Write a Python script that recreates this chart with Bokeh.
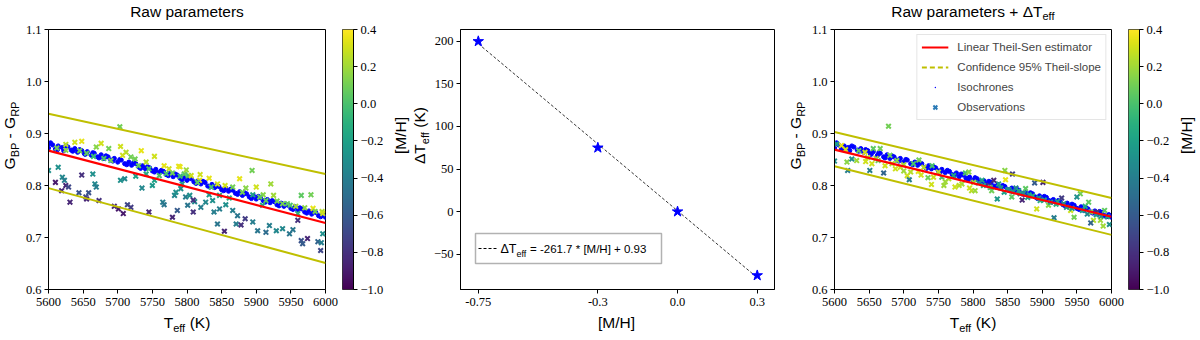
import numpy as np
from bokeh.plotting import figure
from bokeh.layouts import row, column
from bokeh.models import (ColumnDataSource, LinearColorMapper, FixedTicker, Label,
                          Legend, LegendItem, BoxAnnotation, Arrow, CustomJSTickFormatter)
from bokeh.palettes import Viridis256
from bokeh.embed import file_html
from bokeh.resources import INLINE

# ---------------- data ----------------
x_ticks = [5600, 5650, 5700, 5750, 5800, 5850, 5900, 5950, 6000]
y_ticks = [0.6, 0.7, 0.8, 0.9, 1.0, 1.1]
cb_ticks = [-1.0, -0.8, -0.6, -0.4, -0.2, 0.0, 0.2, 0.4]
mh_low, mh_high = -1.0, 0.4
mh_ticks = [-0.75, -0.3, 0.0, 0.3]
dt_ticks = [-50, 0, 50, 100, 150, 200]

# isochrones (same in both panels)
iso_teff = [5600, 5600, 5606, 5610, 5614, 5620, 5622, 5628, 5633, 5638,
            5642, 5648, 5652, 5656, 5662, 5666, 5671, 5676, 5680, 5686,
            5690, 5695, 5700, 5705, 5710, 5716, 5720, 5726, 5731, 5736,
            5740, 5746, 5750, 5755, 5760, 5766, 5770, 5776, 5780, 5786,
            5790, 5795, 5800, 5806, 5810, 5816, 5820, 5826, 5830, 5836,
            5840, 5846, 5850, 5856, 5860, 5866, 5870, 5876, 5880, 5886,
            5890, 5896, 5900, 5906, 5910, 5916, 5920, 5926, 5930, 5936,
            5940, 5946, 5950, 5956, 5960, 5966, 5970, 5976, 5980, 5986,
            5990, 5996, 6000,
            5603, 5613, 5625, 5635, 5645, 5653, 5664, 5673, 5683, 5693,
            5703, 5713, 5723, 5733, 5743, 5753, 5763, 5773, 5783, 5793,
            5803, 5813, 5823, 5833, 5843, 5853, 5863, 5873, 5883, 5893,
            5903, 5913, 5923, 5933, 5943, 5953, 5963, 5973, 5983, 5993]
iso_color = [0.880, 0.872, 0.878, 0.870, 0.876, 0.873, 0.867, 0.874, 0.868, 0.871,
             0.864, 0.867, 0.861, 0.865, 0.858, 0.862, 0.855, 0.859, 0.852, 0.855,
             0.849, 0.852, 0.845, 0.849, 0.842, 0.845, 0.839, 0.842, 0.835, 0.838,
             0.832, 0.834, 0.828, 0.831, 0.825, 0.827, 0.821, 0.824, 0.817, 0.820,
             0.814, 0.816, 0.810, 0.813, 0.807, 0.809, 0.803, 0.806, 0.799, 0.802,
             0.796, 0.798, 0.792, 0.795, 0.789, 0.791, 0.785, 0.788, 0.781, 0.784,
             0.778, 0.780, 0.774, 0.777, 0.771, 0.773, 0.767, 0.769, 0.763, 0.766,
             0.760, 0.762, 0.756, 0.759, 0.752, 0.755, 0.749, 0.751, 0.745, 0.748,
             0.742, 0.744, 0.739,
             0.882, 0.869, 0.876, 0.866, 0.869, 0.860, 0.863, 0.853, 0.857, 0.847,
             0.850, 0.840, 0.844, 0.833, 0.836, 0.826, 0.829, 0.819, 0.822, 0.811,
             0.815, 0.804, 0.808, 0.797, 0.800, 0.790, 0.793, 0.783, 0.786, 0.775,
             0.779, 0.768, 0.771, 0.761, 0.764, 0.754, 0.757, 0.747, 0.750, 0.740]

# observations, raw parameters
raw_teff = [5703, 5638, 5648, 5625, 5676, 5687, 5669, 5704, 5712, 5734,
            5719, 5707, 5725, 5753, 5741, 5767, 5774, 5788, 5779, 5796,
            5760, 5741, 5726, 5802, 5799, 5790, 5894, 5921, 5965, 5979,
            5876, 5855, 5832, 5819, 5806, 5818, 5844, 5866, 5885, 5900,
            5910, 5925, 5914, 5938, 5949, 5957, 5982, 5995, 5996, 5960,
            5909, 5895, 5861, 5847, 5832, 5655, 5665, 5680, 5690, 5730,
            5745, 5770, 5790, 5815, 5835, 5880, 5905, 5930, 5945, 5970,
            5985, 5645, 5625, 5612, 5614, 5600, 5620, 5623, 5625, 5610,
            5619, 5629, 5631, 5644, 5648, 5654, 5658, 5664, 5667, 5669,
            5673, 5655, 5695, 5701, 5708, 5714, 5719, 5710, 5704, 5735,
            5745, 5753, 5765, 5767, 5750, 5779, 5786, 5782, 5784, 5791,
            5798, 5801, 5793, 5804, 5811, 5809, 5809, 5820, 5827, 5837,
            5839, 5844, 5847, 5854, 5856, 5866, 5873, 5871, 5878, 5884,
            5895, 5902, 5914, 5919, 5929, 5938, 5948, 5953, 5960, 5965,
            5967, 5974, 5989, 5993, 5996, 5994]
raw_color = [0.913, 0.883, 0.885, 0.879, 0.881, 0.871, 0.874, 0.875, 0.864, 0.867,
             0.855, 0.858, 0.851, 0.856, 0.845, 0.838, 0.832, 0.837, 0.824, 0.822,
             0.819, 0.822, 0.818, 0.819, 0.830, 0.836, 0.829, 0.803, 0.781, 0.782,
             0.813, 0.800, 0.814, 0.821, 0.819, 0.810, 0.803, 0.797, 0.795, 0.797,
             0.782, 0.781, 0.771, 0.765, 0.762, 0.760, 0.756, 0.750, 0.746, 0.746,
             0.762, 0.782, 0.776, 0.781, 0.782, 0.862, 0.856, 0.852, 0.848, 0.838,
             0.832, 0.823, 0.818, 0.806, 0.797, 0.787, 0.778, 0.770, 0.765, 0.757,
             0.750, 0.867, 0.868, 0.872, 0.835, 0.829, 0.816, 0.810, 0.800, 0.806,
             0.790, 0.797, 0.768, 0.786, 0.820, 0.778, 0.786, 0.822, 0.803, 0.797,
             0.771, 0.774, 0.760, 0.755, 0.746, 0.763, 0.758, 0.813, 0.810, 0.795,
             0.749, 0.810, 0.768, 0.763, 0.800, 0.739, 0.752, 0.781, 0.787, 0.794,
             0.778, 0.762, 0.803, 0.781, 0.769, 0.749, 0.772, 0.758, 0.768, 0.771,
             0.749, 0.726, 0.755, 0.712, 0.763, 0.752, 0.742, 0.726, 0.724, 0.736,
             0.730, 0.713, 0.710, 0.723, 0.713, 0.717, 0.707, 0.715, 0.733, 0.694,
             0.688, 0.698, 0.692, 0.675, 0.707, 0.690]
raw_mh = [0.10, 0.30, 0.35, 0.25, 0.30, 0.10, 0.15, 0.30, 0.25, 0.35,
          0.10, 0.30, 0.10, 0.30, 0.25, 0.35, 0.30, 0.35, 0.10, 0.05,
          0.00, -0.15, -0.20, 0.00, 0.20, 0.35, 0.10, 0.20, 0.05, 0.10,
          0.35, 0.30, 0.35, 0.30, 0.30, 0.35, 0.30, 0.10, 0.15, 0.30,
          0.15, 0.20, 0.05, 0.10, 0.00, 0.20, 0.35, 0.25, 0.30, -0.10,
          -0.15, -0.20, -0.10, -0.15, -0.25, 0.05, -0.05, 0.00, 0.10, 0.05,
          0.00, 0.00, -0.05, 0.05, 0.00, 0.10, 0.05, 0.10, 0.05, 0.15,
          0.10, 0.10, 0.15, 0.10, -0.30, -0.30, -0.35, -0.40, -0.85, -0.90,
          -0.85, -0.70, -0.85, -0.65, -0.80, -0.70, -0.65, -0.30, -0.35, -0.40,
          -0.80, -0.85, -0.85, -0.90, -0.90, -0.70, -0.75, -0.35, -0.30, -0.35,
          -0.85, -0.20, -0.40, -0.45, -0.25, -0.85, -0.60, -0.35, -0.30, -0.30,
          -0.40, -0.45, -0.25, -0.30, -0.35, -0.80, -0.80, -0.40, -0.35, -0.30,
          -0.40, -0.45, -0.40, -0.85, -0.30, -0.40, -0.45, -0.40, -0.80, -0.75,
          -0.40, -0.45, -0.50, -0.40, -0.35, -0.35, -0.45, -0.45, -0.80, -0.65,
          -0.60, -0.85, -0.55, -0.70, -0.30, -0.40]

# observations, raw parameters + delta Teff
cor_teff = [5678, 5600, 5603, 5610, 5616, 5618, 5619, 5625, 5632, 5635,
            5644, 5648, 5651, 5656, 5666, 5654, 5663, 5671, 5673, 5680,
            5683, 5690, 5695, 5700, 5705, 5708, 5714, 5722, 5721, 5729,
            5741, 5740, 5743, 5750, 5755, 5758, 5765, 5772, 5774, 5784,
            5789, 5794, 5798, 5801, 5846, 5857, 5847, 5837, 5813, 5823,
            5830, 5803, 5827, 5835, 5889, 5901, 5876, 5868, 5871, 5879,
            5897, 5856, 5852, 5892, 5909, 5917, 5928, 5922, 5931, 5941,
            5946, 5955, 5950, 5962, 5967, 5970, 5974, 5979, 5984, 5990,
            5994, 5997, 5988, 5970, 5840, 5845, 5850, 5858, 5862, 5866,
            5873, 5881, 5886, 5895, 5903, 5912, 5920, 5935, 5943, 5958,
            5965, 5978, 5985, 5815, 5808, 5825, 5700, 5710, 5725, 5735,
            5760, 5780, 5795, 5645, 5660, 5688]
cor_color = [0.914, 0.847, 0.880, 0.877, 0.869, 0.845, 0.829, 0.851, 0.848, 0.867,
             0.864, 0.854, 0.829, 0.871, 0.871, 0.842, 0.848, 0.824, 0.838, 0.858,
             0.842, 0.848, 0.835, 0.840, 0.819, 0.811, 0.842, 0.849, 0.827, 0.835,
             0.838, 0.802, 0.816, 0.826, 0.816, 0.800, 0.813, 0.819, 0.797, 0.803,
             0.824, 0.826, 0.790, 0.806, 0.829, 0.822, 0.811, 0.803, 0.810, 0.800,
             0.810, 0.790, 0.790, 0.774, 0.805, 0.806, 0.794, 0.784, 0.772, 0.777,
             0.771, 0.778, 0.792, 0.755, 0.762, 0.738, 0.776, 0.769, 0.765, 0.752,
             0.739, 0.784, 0.778, 0.760, 0.768, 0.749, 0.733, 0.749, 0.733, 0.752,
             0.740, 0.725, 0.722, 0.728, 0.795, 0.787, 0.792, 0.788, 0.795, 0.790,
             0.785, 0.782, 0.780, 0.776, 0.772, 0.768, 0.764, 0.758, 0.756, 0.752,
             0.745, 0.744, 0.741, 0.800, 0.805, 0.796, 0.828, 0.826, 0.820, 0.815,
             0.807, 0.800, 0.795, 0.846, 0.852, 0.832]
cor_mh = [0.10, -0.30, -0.20, 0.35, 0.30, 0.15, -0.40, -0.30, 0.20, 0.05,
          0.30, 0.25, -0.40, 0.05, 0.10, 0.30, 0.10, -0.55, 0.30, 0.10,
          0.25, 0.15, 0.30, 0.20, 0.30, -0.40, 0.00, 0.10, 0.35, 0.25,
          0.00, 0.30, 0.30, 0.25, 0.00, 0.20, 0.25, -0.20, 0.30, 0.20,
          0.00, 0.15, 0.25, 0.20, 0.15, -0.75, 0.35, -0.20, -0.20, -0.80,
          -0.85, 0.20, 0.10, -0.25, -0.60, -0.85, 0.05, -0.30, -0.85, -0.20,
          -0.10, 0.05, -0.30, 0.30, 0.15, -0.40, -0.75, -0.25, -0.30, 0.30,
          0.10, 0.10, -0.30, -0.15, 0.05, 0.15, 0.25, -0.80, 0.20, 0.05,
          -0.20, -0.30, 0.20, -0.55, -0.25, -0.20, -0.30, -0.25, -0.35, -0.20,
          -0.30, -0.25, -0.10, -0.30, -0.20, -0.25, -0.10, -0.30, -0.25, -0.20,
          -0.35, -0.25, -0.30, -0.15, -0.30, 0.00, 0.20, 0.25, 0.30, 0.10,
          0.20, 0.25, 0.30, 0.30, 0.20, 0.30]

# Theil-Sen fits (end points)
fit_teff = [5600, 6000]
raw_fit = [0.867, 0.728]
raw_upper = [0.938, 0.822]
raw_lower = [0.795, 0.651]
cor_fit = [0.869, 0.740]
cor_upper = [0.903, 0.776]
cor_lower = [0.837, 0.705]

# delta Teff vs metallicity
mh_points = [-0.75, -0.3, 0.0, 0.3]
dteff_points = [200, 75, 0, -75]
fit_slope = -261.7
fit_intercept = 0.93

NAN = [float("nan")]

# ---------------- styling helpers ----------------
SANS = "Liberation Sans"
SERIF = "Liberation Serif"
MAIN = 15.5
SUB = 11
SUB_DY = 3.5
BASE_FIX = 0.33   # em correction so that labels sit on the intended baseline
W = {' ': 0.278, '(': 0.333, ')': 0.333, '[': 0.278, ']': 0.278, '/': 0.278, '-': 0.333,
     '+': 0.584, '=': 0.584, '*': 0.389, '.': 0.278, 'R': 0.722, 'a': 0.556, 'w': 0.722,
     'p': 0.556, 'r': 0.333, 'm': 0.833, 'e': 0.556, 't': 0.278, 's': 0.5, 'T': 0.611,
     'f': 0.278, 'K': 0.667, 'M': 0.833, 'H': 0.722, 'G': 0.778, 'B': 0.667, 'P': 0.667,
     'Δ': 0.668}
for d in "0123456789":
    W[d] = 0.556


def tw(s, size):
    return sum(W.get(c, 0.55) for c in s) * size


def put(p, text, x, y, size, angle=0.0):
    if angle == 0.0:
        y = y + BASE_FIX * size
    else:
        x = x - BASE_FIX * size
    p.add_layout(Label(x=x, y=y, x_units="screen", y_units="screen", text=text,
                       angle=angle, text_align="left", text_baseline="alphabetic",
                       text_font=SANS, text_font_size=f"{size}px", text_color="black"))


def hlabel(p, parts, cx, y, sub_dy=SUB_DY):
    sizes = [SUB if sub else MAIN for _, sub in parts]
    total = sum(tw(t, s) for (t, _), s in zip(parts, sizes))
    x = cx - total / 2
    for (t, sub), s in zip(parts, sizes):
        lead = len(t) - len(t.lstrip())
        x += lead * W[' '] * s
        core = t.strip()
        put(p, core, x, y - (sub_dy if sub else 0), s)
        x += tw(core, s) + (len(t) - lead - len(core)) * W[' '] * s


def vlabel(p, parts, x, cy, sub_dy=SUB_DY):
    sizes = [SUB if sub else MAIN for _, sub in parts]
    total = sum(tw(t, s) for (t, _), s in zip(parts, sizes))
    y = cy - total / 2
    for (t, sub), s in zip(parts, sizes):
        lead = len(t) - len(t.lstrip())
        y += lead * W[' '] * s
        core = t.strip()
        put(p, core, x + (sub_dy if sub else 0), y, s, angle=np.pi / 2)
        y += tw(core, s) + (len(t) - lead - len(core)) * W[' '] * s


def text_fig(w, h):
    f = figure(width=w, height=h, x_range=(0, w), y_range=(0, h), min_border=0,
               x_axis_location=None, y_axis_location=None, toolbar_location=None,
               output_backend="svg", outline_line_color=None)
    f.xgrid.visible = False
    f.ygrid.visible = False
    f.background_fill_color = "white"
    f.border_fill_color = "white"
    return f


def style_axis(ax):
    ax.axis_line_color = "black"
    ax.axis_line_width = 1
    ax.major_tick_line_color = "black"
    ax.major_tick_out = 4
    ax.major_tick_in = 0
    ax.minor_tick_line_color = None
    ax.major_label_text_font = SERIF
    ax.major_label_text_font_size = "12.5px"
    ax.major_label_text_color = "black"


def style(p):
    p.xgrid.visible = False
    p.ygrid.visible = False
    p.outline_line_color = "black"
    p.outline_line_alpha = 1
    p.outline_line_width = 1
    p.background_fill_color = "white"
    p.border_fill_color = "white"
    for ax in (p.xaxis[0], p.yaxis[0]):
        style_axis(ax)
    p.xaxis.major_label_standoff = 4
    p.yaxis.major_label_standoff = 3


mapper = LinearColorMapper(palette=Viridis256, low=mh_low, high=mh_high)
minus_fmt1 = CustomJSTickFormatter(code="return (tick < -1e-9 ? '\\u2212' : '') + Math.abs(tick).toFixed(1);")

# layout geometry (pixels)
TOP_H, BT, FRAME_H, BB, BOT_H = 22, 7, 260, 24, 27   # 22 + (7+260+24) + 27 = 340
MID_H = BT + FRAME_H + BB
L_STRIP, L_BORDER, FRAME_W, R_GAP = 20, 28, 277, 17
CB_BAR, CB_AXIS, R_STRIP = 11, 38, 19                  # 20+28+277+17+49+19 = 410
PANEL_W = L_STRIP + L_BORDER + FRAME_W + R_GAP + CB_BAR + CB_AXIS + R_STRIP


def colorbar_fig():
    c = figure(width=CB_BAR + CB_AXIS, height=MID_H, x_range=(0, 1), y_range=(mh_low, mh_high),
               min_border_left=0, min_border_right=CB_AXIS, min_border_top=BT, min_border_bottom=BB,
               x_axis_location=None, y_axis_location="right", toolbar_location=None,
               output_backend="svg")
    grad = np.linspace(mh_low, mh_high, 256).reshape(256, 1)
    c.image(image=[grad], x=0, y=mh_low, dw=1, dh=mh_high - mh_low, color_mapper=mapper)
    c.xgrid.visible = False
    c.ygrid.visible = False
    c.outline_line_color = "black"
    c.outline_line_width = 0.8
    c.border_fill_color = "white"
    style_axis(c.yaxis[0])
    c.yaxis.ticker = FixedTicker(ticks=cb_ticks)
    c.yaxis.formatter = minus_fmt1
    c.yaxis.major_label_standoff = 3
    return c


def scatter_panel(teff, color, mh, fit, up, lo, title_parts, with_legend):
    p = figure(width=L_BORDER + FRAME_W + R_GAP, height=MID_H,
               x_range=(5600, 6000), y_range=(0.6, 1.1),
               output_backend="svg", toolbar_location=None,
               min_border_left=L_BORDER, min_border_right=R_GAP,
               min_border_top=BT, min_border_bottom=BB)
    style(p)
    p.xaxis.ticker = FixedTicker(ticks=x_ticks)
    p.yaxis.ticker = FixedTicker(ticks=y_ticks)
    p.yaxis.formatter = CustomJSTickFormatter(code="return tick.toFixed(1);")

    src = ColumnDataSource(dict(t=teff, c=color, m=mh))
    p.scatter(iso_teff, iso_color, marker="circle", size=4.2, color="blue")
    p.scatter("t", "c", source=src, marker="x", size=6.5, line_width=2,
              line_color={"field": "m", "transform": mapper})
    p.line(fit_teff, up, line_color="#bfbf00", line_width=2)
    p.line(fit_teff, lo, line_color="#bfbf00", line_width=2)
    r_fit = p.line(fit_teff, fit, line_color="red", line_width=2.2)

    if with_legend:
        r_conf = p.line(NAN, NAN, line_color="#bfbf00", line_width=2, line_dash="5 3")
        r_isol = p.scatter(NAN, NAN, marker="dot", size=14, line_width=2.5, color="blue")
        r_obsl = p.scatter(NAN, NAN, marker="x", size=6, line_width=2, line_color="#2c7bb6")
        leg = Legend(items=[LegendItem(label="Linear Theil-Sen estimator", renderers=[r_fit]),
                            LegendItem(label="Confidence 95% Theil-slope", renderers=[r_conf]),
                            LegendItem(label="Isochrones", renderers=[r_isol]),
                            LegendItem(label="Observations", renderers=[r_obsl])],
                     location="top_right", margin=5, padding=4, spacing=4,
                     glyph_width=27, glyph_height=14, label_height=16, label_standoff=9,
                     label_text_font=SANS, label_text_font_size="11.5px",
                     border_line_color="#cccccc", border_line_width=1,
                     background_fill_alpha=0.8)
        p.add_layout(leg)

    # surrounding text strips
    cx = L_STRIP + L_BORDER + FRAME_W / 2
    cy = MID_H - BT - FRAME_H / 2
    top = text_fig(PANEL_W, TOP_H)
    hlabel(top, title_parts, cx, 5.6, sub_dy=3)
    left = text_fig(L_STRIP, MID_H)
    vlabel(left, [("G", False), ("BP", True), (" - G", False), ("RP", True)], 14.2, cy)
    right = text_fig(R_STRIP, MID_H)
    vlabel(right, [("[M/H]", False)], 14, cy)
    bot = text_fig(PANEL_W, BOT_H)
    hlabel(bot, [("T", False), ("eff", True), (" (K)", False)], cx, 12.8)
    return column(top, row(left, p, colorbar_fig(), right), bot)


panel1 = scatter_panel(raw_teff, raw_color, raw_mh, raw_fit, raw_upper, raw_lower,
                       [("Raw parameters", False)], False)
panel3 = scatter_panel(cor_teff, cor_color, cor_mh, cor_fit, cor_upper, cor_lower,
                       [("Raw parameters + ΔT", False), ("eff", True)], True)

# ---------------- middle panel ----------------
M_LBORDER, M_FRAME_W, M_RBORDER = 28, 316, 12
p2 = figure(width=M_LBORDER + M_FRAME_W + M_RBORDER, height=MID_H,
            x_range=(-0.817, 0.365), y_range=(-91.5, 213.9),
            output_backend="svg", toolbar_location=None,
            min_border_left=M_LBORDER, min_border_right=M_RBORDER,
            min_border_top=BT, min_border_bottom=BB)
style(p2)
p2.xaxis.ticker = FixedTicker(ticks=mh_ticks)
p2.xaxis.formatter = CustomJSTickFormatter(code="return tick == 0 ? '0.0' : String(tick);")
p2.yaxis.ticker = FixedTicker(ticks=dt_ticks)
p2.yaxis.formatter = CustomJSTickFormatter(code="return (tick < 0 ? '\\u2212' : '') + Math.abs(tick).toFixed(0);")

fit_x = [mh_points[0], mh_points[-1]]
fit_y = [fit_slope * v + fit_intercept for v in fit_x]
p2.line(fit_x, fit_y, line_color="black", line_width=0.8, line_dash="3 2")
p2.scatter(mh_points, dteff_points, marker="star", size=11, color="blue")

p2.add_layout(BoxAnnotation(left=15, right=201, top=56, bottom=26,
                            left_units="screen", right_units="screen",
                            top_units="screen", bottom_units="screen",
                            fill_color="white", fill_alpha=1, line_color="black", line_width=1.5))
p2.add_layout(Arrow(end=None, start=None, x_start=18, y_start=41, x_end=38, y_end=41,
                    start_units="screen", end_units="screen",
                    line_color="black", line_width=1, line_dash="3 2"))
LEG = 12.5
put(p2, "ΔT", 40, 36.5, LEG)
put(p2, "eff", 40 + tw("ΔT", LEG), 33, 9)
put(p2, "= -261.7 * [M/H] + 0.93", 40 + tw("ΔT", LEG) + tw("eff", 9) + 3.5, 36.5, 11.5)

M_LSTRIP = 20
M_W = M_LSTRIP + M_LBORDER + M_FRAME_W + M_RBORDER
top2 = text_fig(M_W, TOP_H)
left2 = text_fig(M_LSTRIP, MID_H)
vlabel(left2, [("ΔT", False), ("eff", True), (" (K)", False)], 14.2, MID_H - BT - FRAME_H / 2)
bot2 = text_fig(M_W, BOT_H)
hlabel(bot2, [("[M/H]", False)], M_LSTRIP + M_LBORDER + M_FRAME_W / 2, 12.8)
panel2 = column(top2, row(left2, p2), bot2)

layout = row(panel1, panel2, panel3)
open("out.html", "w").write(file_html(layout, INLINE))
